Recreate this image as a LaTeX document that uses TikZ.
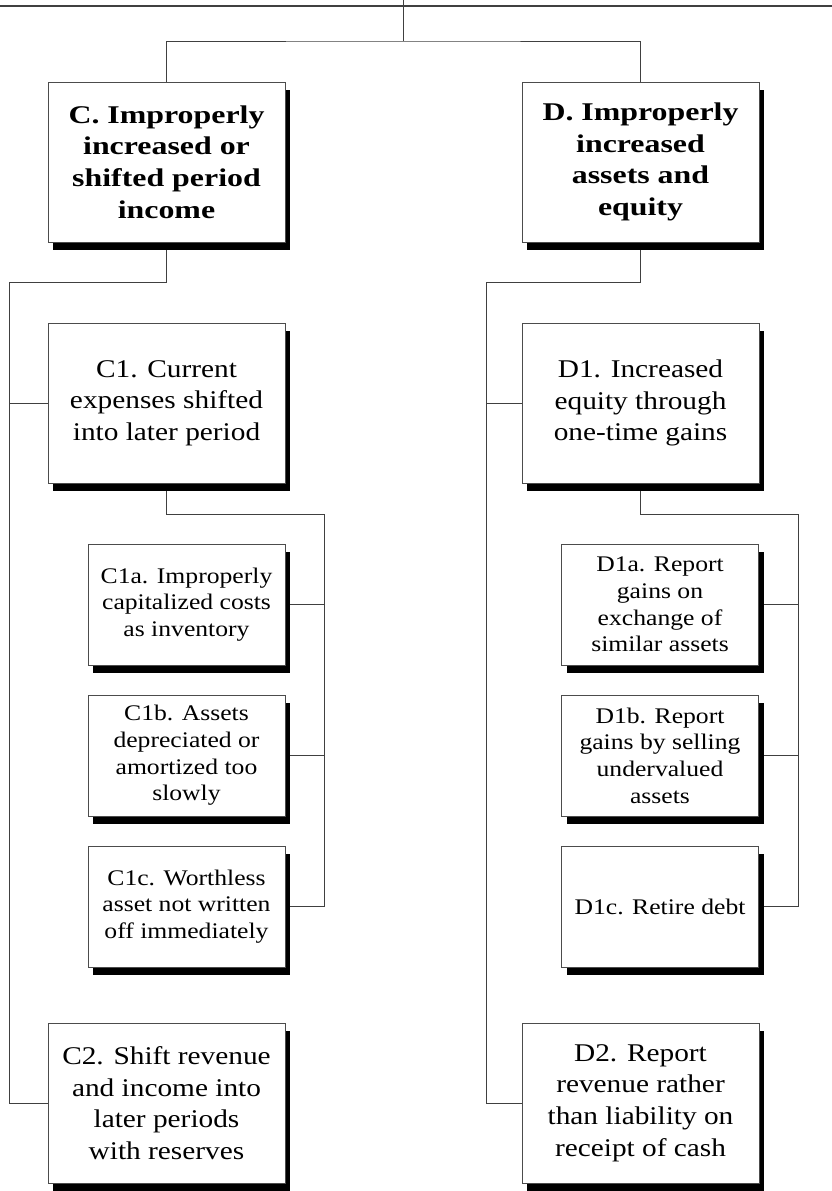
\documentclass[tikz,border=0pt]{standalone}
\usepackage{fontspec}
\setmainfont[FakeStretch=1.15]{Liberation Serif}
\newfontfamily\hdfont[FakeStretch=1.25]{Liberation Serif}
\usetikzlibrary{shadows,backgrounds}
\begin{document}
\begin{tikzpicture}[x=1pt,y=-1pt,
  box/.style={draw=black!70, line width=0.8pt, fill=white, inner sep=0pt, align=center,
    drop shadow={shadow xshift=5pt, shadow yshift=-8pt, fill=black, opacity=1}},
  big/.style={box, minimum width=237pt, minimum height=160pt, font=\fontsize{25.5}{31.7}\selectfont},
  head/.style={box, minimum width=237pt, minimum height=160pt, font=\hdfont\bfseries\fontsize{25.5}{31.7}\selectfont},
  small/.style={box, minimum width=197pt, minimum height=121pt, font=\fontsize{22.3}{26.7}\selectfont},
  link/.style={draw=black!75, line width=0.9pt}]
\useasboundingbox (0,0) rectangle (832,1191);

% top elements
\coordinate (tl) at (0,6);
\coordinate (tr) at (832,6);
\coordinate (s0) at (403,0);
\coordinate (j0) at (403,41);

% main boxes
\node[head] (C) at (166.5,162) {C. Improperly\\increased or\\shifted period\\income};
\node[head] (D) at (640.5,162) {D. Improperly\\increased\\assets and\\equity};

\node[big] (C1) at (166.5,403) {C1. Current\\expenses shifted\\into later period};
\node[big] (D1) at (640.5,403) {D1. Increased\\equity through\\one-time gains};

\node[small] (C1a) at (186.5,604.5) {C1a. Improperly\\capitalized costs\\as inventory};
\node[small] (C1b) at (186.5,755.5) {C1b. Assets\\depreciated or\\amortized too\\slowly};
\node[small] (C1c) at (186.5,906.5) {C1c. Worthless\\asset not written\\off immediately};

\node[small] (D1a) at (660,604.5) {D1a. Report\\gains on\\exchange of\\similar assets};
\node[small] (D1b) at (660,755.5) {D1b. Report\\gains by selling\\undervalued\\assets};
\node[small] (D1c) at (660,906.5) {D1c. Retire debt};

\node[big] (C2) at (166.5,1103) {C2. Shift revenue\\and income into\\later periods\\with reserves};
\node[big] (D2) at (640.5,1103) {D2. Report\\revenue rather\\than liability on\\receipt of cash};

\coordinate (cbend) at (9,282);
\coordinate (dbend) at (486,282);
\coordinate (c1bend) at (324,514);
\coordinate (d1bend) at (798,514);

\begin{pgfonlayer}{background}
\draw[link, line width=2.2pt] (tl) -- (tr);
\draw[link] (s0) -- (j0);
\draw[link] (C.north) |- (j0) -| (D.north);

\draw[link] (C.south) |- (cbend) |- (C2.west);
\draw[link] (C1.west) -- (C1.west -| cbend);
\draw[link] (D.south) |- (dbend) |- (D2.west);
\draw[link] (D1.west) -- (D1.west -| dbend);

\draw[link] (C1.south) |- (c1bend) |- (C1c.east);
\draw[link] (C1a.east) -- (C1a.east -| c1bend);
\draw[link] (C1b.east) -- (C1b.east -| c1bend);
\draw[link] (D1.south) |- (d1bend) |- (D1c.east);
\draw[link] (D1a.east) -- (D1a.east -| d1bend);
\draw[link] (D1b.east) -- (D1b.east -| d1bend);
\end{pgfonlayer}
\end{tikzpicture}
\end{document}
